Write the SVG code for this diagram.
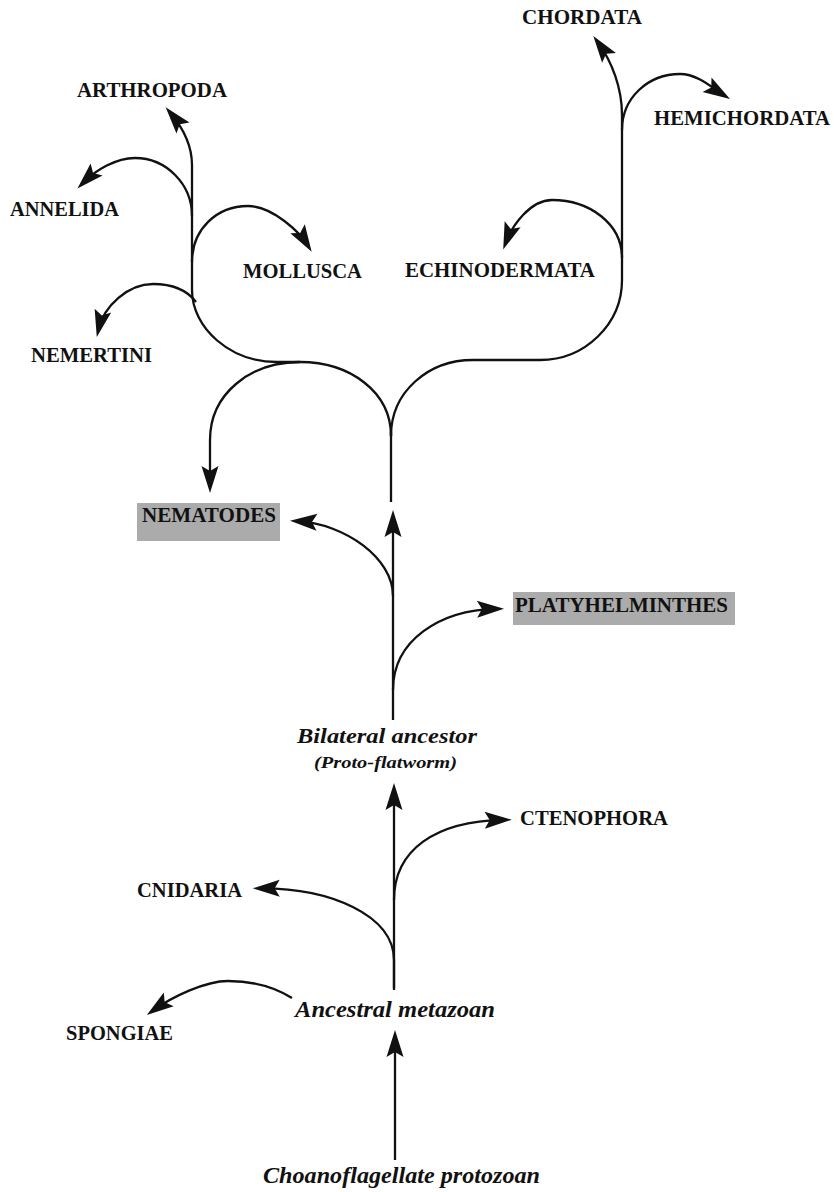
<svg xmlns="http://www.w3.org/2000/svg" width="834" height="1192" viewBox="0 0 834 1192">
<style>
.ln{fill:none;stroke:#111;stroke-width:2.3;stroke-linecap:butt}
.arr{fill:none;stroke:#111;stroke-width:2.3;marker-end:url(#ah)}
.lb{font-family:"Liberation Serif","Times New Roman",serif;font-weight:bold;font-size:20.5px;fill:#111}
.hl{font-family:"Liberation Serif","Times New Roman",serif;font-weight:bold;font-size:21px;fill:#111}
.it{font-family:"Liberation Serif","Times New Roman",serif;font-weight:bold;font-style:italic;fill:#111}
.box{fill:#ababab}
</style>
<defs>
<marker id="ah" markerUnits="userSpaceOnUse" orient="auto" refX="0" refY="0" markerWidth="40" markerHeight="40" overflow="visible">
<path d="M8,0 L-19,-8.5 L-14,0 L-19,8.5 Z" fill="#111"/>
</marker>
</defs>
<rect width="834" height="1192" fill="#fff"/>
<g id="connectors">
<path class="arr" d="M300,362 L277,362 C230,362 192,328 192,290 L192,165 C192,145 183,128 170.8,113.4"/>
<path class="arr" d="M192,216 C192,184 166,158 135,158 C116,158 96,170 83.1,182.8"/>
<path class="arr" d="M192,262 C192,229 217,206 248,206 C273,206 300.2,233 307.5,244.9"/>
<path class="arr" d="M196,302 C187,290 172,284 153,284 C128,284 104,306 98.6,329.1"/>
<path class="arr" d="M391,436 C391,392 350,362 300,362 C250,362 210,394 210,440 L210,485"/>
<path class="arr" d="M391,436 C391,392 428,360 473,360 L540,360 C585,360 622,324 622,280 L622,115 C622,88 612,62 598,42.4"/>
<path class="arr" d="M622,130 C622,98 648,74 680,74 C698,74 713,88.5 723.2,94.8"/>
<path class="arr" d="M622,258 C622,224 590,200 552,200 C530,200 512,226 506,242.1"/>
<path class="ln" d="M391,432 L391,502"/>
<path class="arr" d="M393,720 L393,518"/>
<path class="arr" d="M393,596 C393,558 345,524 298,521.2"/>
<path class="arr" d="M393,690 C393,640 440,610 496,608.8"/>
<path class="arr" d="M394,990 L394,791"/>
<path class="arr" d="M394,900 C394,850 435,821 503.7,819.8"/>
<path class="arr" d="M394,988 L394,960 C394,915 330,888 260.7,888.3"/>
<path class="arr" d="M292,998 C273,986 250,981 228,981 C205,981 172,997 153.3,1010.4"/>
<path class="arr" d="M395,1160 L395,1038"/>
</g>
<g id="chordata"><text class="lb" x="522" y="24" textLength="120" lengthAdjust="spacingAndGlyphs">CHORDATA</text></g>
<g id="hemichordata"><text class="lb" x="654" y="125" textLength="176" lengthAdjust="spacingAndGlyphs">HEMICHORDATA</text></g>
<g id="echinodermata"><text class="lb" x="405" y="277" textLength="190" lengthAdjust="spacingAndGlyphs">ECHINODERMATA</text></g>
<g id="arthropoda"><text class="lb" x="77" y="97" textLength="150" lengthAdjust="spacingAndGlyphs">ARTHROPODA</text></g>
<g id="annelida"><text class="lb" x="10" y="216" textLength="109" lengthAdjust="spacingAndGlyphs">ANNELIDA</text></g>
<g id="mollusca"><text class="lb" x="243" y="278" textLength="119" lengthAdjust="spacingAndGlyphs">MOLLUSCA</text></g>
<g id="nemertini"><text class="lb" x="31" y="362" textLength="121" lengthAdjust="spacingAndGlyphs">NEMERTINI</text></g>
<g id="nematodes">
<rect class="box" x="137" y="503" width="143" height="38"/>
<text class="hl" x="142" y="522" textLength="134" lengthAdjust="spacingAndGlyphs">NEMATODES</text>
</g>
<g id="platyhelminthes">
<rect class="box" x="513" y="592" width="222" height="33"/>
<text class="hl" x="515" y="612" textLength="213" lengthAdjust="spacingAndGlyphs">PLATYHELMINTHES</text>
</g>
<g id="bilateral">
<text class="it" x="297" y="743" font-size="21.5" textLength="180" lengthAdjust="spacingAndGlyphs">Bilateral ancestor</text>
<text class="it" x="314" y="768" font-size="17" textLength="143" lengthAdjust="spacingAndGlyphs">(Proto-flatworm)</text>
</g>
<g id="ctenophora"><text class="lb" x="520" y="825" textLength="148" lengthAdjust="spacingAndGlyphs">CTENOPHORA</text></g>
<g id="cnidaria"><text class="lb" x="137" y="897" textLength="105" lengthAdjust="spacingAndGlyphs">CNIDARIA</text></g>
<g id="ancestral"><text class="it" x="295" y="1017" font-size="23.5" textLength="200" lengthAdjust="spacingAndGlyphs">Ancestral metazoan</text></g>
<g id="spongiae"><text class="lb" x="66" y="1040" textLength="107" lengthAdjust="spacingAndGlyphs">SPONGIAE</text></g>
<g id="choanoflagellate"><text class="it" x="263" y="1183" font-size="24" textLength="277" lengthAdjust="spacingAndGlyphs">Choanoflagellate protozoan</text></g>
</svg>
